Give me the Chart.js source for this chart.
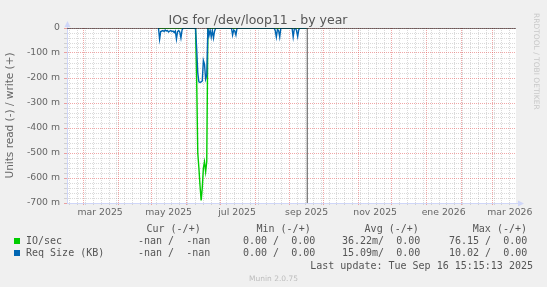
<!DOCTYPE html>
<html>
<head>
<meta charset="utf-8">
<script src="https://cdn.jsdelivr.net/npm/chart.js@4.4.1/dist/chart.umd.min.js"></script>
<style>
  html, body { margin: 0; padding: 0; background: #f0f0f0; }
  #wrap { position: relative; width: 547px; height: 287px; background: #f0f0f0; overflow: hidden; }
  #graph { position: absolute; left: 0; top: 0; }
  .mono { position: absolute; font: 10px/12px 'DejaVu Sans Mono', monospace; color: #555; white-space: pre; }
  .swatch { position: absolute; width: 6px; height: 6px; }
  #rrd { position: absolute; left: 532px; top: 13px; writing-mode: vertical-rl; font: 7.5px/9px 'DejaVu Sans', sans-serif; color: #c8c8c8; white-space: nowrap; }
  #munin { position: absolute; left: 0; width: 547px; top: 274px; text-align: center; font: 7.5px/9px 'DejaVu Sans', sans-serif; color: #bdbdbd; }
</style>
</head>
<body>
<div id="wrap">
  <canvas id="graph" width="547" height="287"></canvas>
  <div id="legend"></div>
  <div id="rrd">RRDTOOL / TOBI OETIKER</div>
  <div id="munin">Munin 2.0.75</div>
</div>
<script>
// IOs for /dev/loop11 - by year (munin diskstats)
// x values are days counted from 1 Jan 2025

const xMin = 44.5, xMax = 444.5;
const nowDay = 258.64; // Tue Sep 16 15:15:13 2025

// month boundaries (red grid) and labels, rrdtool puts labels mid month
const monthStarts = [59, 90, 120, 151, 181, 212, 243, 273, 304, 334, 365, 396, 424];
const labelDays = [74, 135, 196, 258, 319, 380, 439];
const labelTexts = ['mar 2025', 'may 2025', 'jul 2025', 'sep 2025', 'nov 2025', 'ene 2026', 'mar 2026'];

// y axis labels (every 100 m)
const yMajor = [0, -0.1, -0.2, -0.3, -0.4, -0.5, -0.6, -0.7];
const yLabels = ['0', '-100 m', '-200 m', '-300 m', '-400 m', '-500 m', '-600 m', '-700 m'];

// IO/sec (read side, drawn negative)
const ioDays = [126, 159, 160, 161, 162, 163, 164, 165, 166, 167, 168, 169, 170, 258];
const ioValues = [0, 0, -0.2, -0.5, -0.56, -0.63, -0.69, -0.64, -0.56, -0.535, -0.575, -0.535, 0, 0];

// Req Size (KB) (read side, drawn negative)
const reqDays = [
  126, 127, 128, 129, 130, 131, 132, 133, 134, 135, 136, 137, 138, 139, 140, 141, 142, 143, 144, 145, 146, 147, 148,
  159, 160, 161, 162, 163, 164, 165, 166, 167, 168, 169, 170, 171, 172, 173, 174, 175, 176, 177,
  191, 192, 193, 194, 195, 196,
  229, 230, 231, 232, 233, 234, 235,
  245, 246, 247, 248, 249, 250, 251, 252, 258
];
const reqValues = [
  0, -0.045, -0.014, -0.012, -0.01, -0.014, -0.008, -0.012, -0.01, -0.016, -0.012, -0.01, -0.014, -0.012, -0.018, -0.012, -0.044, -0.014, -0.01, -0.016, -0.04, -0.008, 0,
  0, -0.08, -0.18, -0.215, -0.218, -0.216, -0.212, -0.13, -0.145, -0.205, -0.19, 0, -0.03, -0.008, -0.036, -0.01, -0.04, -0.012, 0,
  0, -0.028, -0.008, -0.012, -0.028, 0,
  0, -0.01, -0.036, -0.006, -0.01, -0.036, 0,
  0, -0.036, -0.004, 0, -0.01, -0.034, -0.006, 0, 0
];

// legend table
const seriesNames = ['IO/sec', 'Req Size (KB)'];
const seriesColors = ['#00CC00', '#0066B3'];
const colHeads = ['Cur (-/+)', 'Min (-/+)', 'Avg (-/+)', 'Max (-/+)'];
const curText = ['-nan /  -nan', '-nan /  -nan'];
const minText = ['0.00 /  0.00', '0.00 /  0.00'];
const avgText = ['36.22m/  0.00', '15.09m/  0.00'];
const maxText = ['76.15 /  0.00', '10.02 /  0.00'];
const lastUpdate = 'Last update: Tue Sep 16 15:15:13 2025';

const gridMinor = 'rgba(140,140,140,0.32)';
const gridMajor = 'rgba(225,80,80,0.5)';
const axisColor = '#CFD6F8';
const fontColor = '#666';

// build legend
(function () {
  const lg = document.getElementById('legend');
  const headX = [146.5, 256.5, 364.6, 472.8];
  const colX = [138, 243, 342, 449];
  const rowTop = [234.8, 246.7];
  const add = (txt, left, top) => {
    const d = document.createElement('div');
    d.className = 'mono';
    d.style.left = left + 'px';
    d.style.top = top + 'px';
    d.textContent = txt;
    lg.appendChild(d);
  };
  colHeads.forEach((h, i) => add(h, headX[i], 222.6));
  seriesNames.forEach((name, i) => {
    const sw = document.createElement('div');
    sw.className = 'swatch';
    sw.style.left = '14px';
    sw.style.top = (rowTop[i] + 3) + 'px';
    sw.style.background = seriesColors[i];
    lg.appendChild(sw);
    add(name, 26, rowTop[i]);
    add(curText[i], colX[0], rowTop[i]);
    add(minText[i], colX[1], rowTop[i]);
    add(avgText[i], colX[2], rowTop[i]);
    add(maxText[i], colX[3], rowTop[i]);
  });
  const lu = document.createElement('div');
  lu.className = 'mono';
  lu.style.right = '14px';
  lu.style.top = '259.6px';
  lu.textContent = lastUpdate;
  lg.appendChild(lu);
})();

const toPoints = (xs, ys) => xs.map((x, i) => ({ x: x, y: ys[i] }));

// white canvas area + axis arrows like rrdtool
const rrdFrame = {
  id: 'rrdFrame',
  beforeDraw(chart) {
    const { ctx, chartArea: a } = chart;
    ctx.save();
    ctx.fillStyle = '#ffffff';
    ctx.fillRect(a.left, a.top, a.right - a.left, a.bottom - a.top);
    ctx.restore();
  },
  afterDraw(chart) {
    const { ctx, chartArea: a } = chart;
    const x0 = Math.round(a.left) + 0.5;
    const y0 = Math.round(a.bottom) + 0.5;
    ctx.save();
    ctx.strokeStyle = axisColor;
    ctx.fillStyle = axisColor;
    ctx.lineWidth = 1;
    ctx.beginPath();
    ctx.moveTo(x0, a.top);
    ctx.lineTo(x0, a.top - 3);
    ctx.moveTo(a.right, y0);
    ctx.lineTo(a.right + 3, y0);
    ctx.stroke();
    ctx.beginPath();
    ctx.moveTo(x0 - 3, a.top - 1);
    ctx.lineTo(x0 + 3, a.top - 1);
    ctx.lineTo(x0, a.top - 7);
    ctx.closePath();
    ctx.fill();
    ctx.beginPath();
    ctx.moveTo(a.right + 2, y0 - 3);
    ctx.lineTo(a.right + 2, y0 + 3);
    ctx.lineTo(a.right + 8, y0);
    ctx.closePath();
    ctx.fill();
    ctx.restore();
  }
};

new Chart(document.getElementById('graph'), {
  type: 'line',
  data: {
    datasets: [
      {
        label: 'zero',
        data: toPoints([xMin, xMax], [0, 0]),
        borderColor: '#000000',
        borderWidth: 1,
        order: 0
      },
      {
        label: 'Req Size (KB)',
        data: toPoints(reqDays, reqValues),
        borderColor: seriesColors[1],
        borderWidth: 1.4,
        order: 1
      },
      {
        label: 'IO/sec',
        data: toPoints(ioDays, ioValues),
        borderColor: seriesColors[0],
        borderWidth: 1.4,
        order: 2
      },
      {
        label: 'now',
        data: toPoints([nowDay, nowDay], [0, -0.7]),
        borderColor: '#808080',
        borderWidth: 1,
        order: 3
      }
    ]
  },
  options: {
    responsive: false,
    animation: false,
    devicePixelRatio: 1,
    elements: { point: { radius: 0 }, line: { tension: 0 } },
    layout: { padding: { left: 0, right: 31, top: 0, bottom: 0 } },
    plugins: {
      legend: { display: false },
      tooltip: { enabled: false },
      title: {
        display: true,
        text: 'IOs for /dev/loop11 - by year',
        color: '#555',
        font: { family: 'DejaVu Sans', size: 12.5, weight: 'normal' },
        padding: { top: 13, bottom: 0 }
      }
    },
    scales: {
      x: {
        type: 'linear',
        min: xMin,
        max: xMax,
        bounds: 'data',
        afterFit: s => { s.height = 84; },
        afterBuildTicks: scale => {
          const ticks = [];
          for (let d = 47; d <= xMax; d += 7) { // mondays, minor grid
            if (d >= xMin && !monthStarts.includes(d)) ticks.push({ value: d, kind: 'week' });
          }
          monthStarts.forEach(d => ticks.push({ value: d, kind: 'month' }));
          labelDays.forEach((d, i) => ticks.push({ value: d, kind: 'label', text: labelTexts[i] }));
          ticks.sort((a, b) => a.value - b.value);
          scale.ticks = ticks;
        },
        ticks: {
          autoSkip: false,
          maxRotation: 0,
          minRotation: 0,
          padding: 2,
          color: fontColor,
          font: { family: 'DejaVu Sans', size: 9.3 },
          callback: (value, index, ticks) => ticks[index].kind === 'label' ? ticks[index].text : ''
        },
        grid: {
          lineWidth: 1,
          tickLength: 2,
          color: c => c.tick.kind === 'month' ? gridMajor : (c.tick.kind === 'week' ? gridMinor : 'rgba(0,0,0,0)'),
          tickColor: c => c.tick.kind === 'month' ? gridMajor : (c.tick.kind === 'week' ? gridMinor : 'rgba(0,0,0,0)')
        },
        border: { display: true, color: axisColor, width: 1, dash: [1, 1] }
      },
      y: {
        type: 'linear',
        min: -0.7,
        max: 0,
        bounds: 'data',
        afterFit: s => { s.width = 67; },
        afterBuildTicks: scale => {
          const ticks = [];
          for (let i = -35; i <= 0; i++) ticks.push({ value: i / 50, major: i % 5 === 0 });
          scale.ticks = ticks;
        },
        ticks: {
          autoSkip: false,
          padding: 4,
          color: fontColor,
          font: { family: 'DejaVu Sans', size: 9.3 },
          callback: (value, index, ticks) => {
            if (!ticks[index].major) return '';
            const k = yMajor.findIndex(v => Math.abs(v - value) < 1e-6);
            return k >= 0 ? yLabels[k] : '';
          }
        },
        grid: {
          lineWidth: 1,
          tickLength: 3,
          color: c => c.tick.major ? gridMajor : gridMinor,
          tickColor: c => c.tick.major ? gridMajor : gridMinor
        },
        border: { display: true, color: axisColor, width: 1, dash: [1, 1] },
        title: {
          display: true,
          text: 'Units read (-) / write (+)',
          color: fontColor,
          font: { family: 'DejaVu Sans', size: 10.5 },
          padding: { top: 4, bottom: 0 }
        }
      }
    }
  },
  plugins: [rrdFrame]
});
</script>
</body>
</html>
